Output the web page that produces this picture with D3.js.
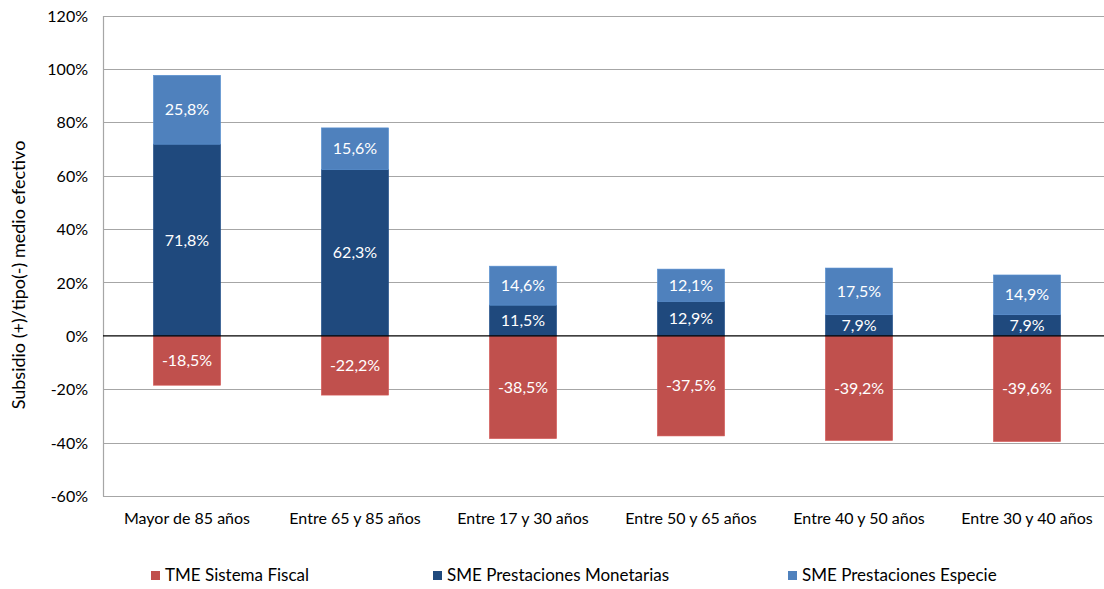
<!DOCTYPE html>
<html>
<head>
<meta charset="utf-8">
<script src="https://cdn.jsdelivr.net/npm/d3@7"></script>
<style>
  html, body { margin: 0; padding: 0; background: #fff; }
  svg text { font-family: Lato, "Open Sans", sans-serif; fill: #000; }
</style>
</head>
<body>
<svg id="chart" width="1104" height="589"></svg>
<script>
// Age groups along the x axis
const categories = ["Mayor de 85 años", "Entre 65 y 85 años", "Entre 17 y 30 años",
                    "Entre 50 y 65 años", "Entre 40 y 50 años", "Entre 30 y 40 años"];
// Series values, in percent
const tmeFiscal      = [-18.5, -22.2, -38.5, -37.5, -39.2, -39.6];
const smeMonetarias  = [71.8, 62.3, 11.5, 12.9, 7.9, 7.9];
const smeEspecie     = [25.8, 15.6, 14.6, 12.1, 17.5, 14.9];
const seriesNames    = ["TME Sistema Fiscal", "SME Prestaciones Monetarias", "SME Prestaciones Especie"];
const yTicks         = [-60, -40, -20, 0, 20, 40, 60, 80, 100, 120];
const yTitle         = "Subsidio (+)/tipo(-) medio efectivo";

const colors = ["#C0504D", "#1F497D", "#4F81BD"];

const svg = d3.select("#chart");
const margin = { left: 103, top: 15.5, right: -7, bottom: 93 };
const W = 1104, H = 589;

const x = d3.scaleBand()
  .domain(categories)
  .range([margin.left, W - margin.right])
  .paddingInner(0.6)
  .paddingOuter(0.3);

const y = d3.scaleLinear()
  .domain([-60, 120])
  .range([H - margin.bottom, margin.top]);

// Spanish decimal comma, plain hyphen for negatives
const fmt = v => d3.format(".1f")(v).replace(".", ",").replace("\u2212", "-") + "%";

// Horizontal gridlines
svg.append("g")
  .selectAll("line")
  .data(yTicks.filter(t => t !== 0))
  .join("line")
  .attr("x1", margin.left)
  .attr("x2", W)
  .attr("y1", d => Math.round(y(d)) + 0.5)
  .attr("y2", d => Math.round(y(d)) + 0.5)
  .attr("stroke", "#A6A6A6")
  .attr("stroke-width", 1.2);

// Y axis with percent labels
const yAxis = d3.axisLeft(y)
  .tickValues(yTicks)
  .tickSize(0)
  .tickPadding(15)
  .tickFormat(d => d + "%");
const yg = svg.append("g")
  .attr("transform", `translate(${margin.left},0)`)
  .call(yAxis);
yg.select(".domain").attr("stroke", "#A6A6A6").attr("stroke-width", 1.2);
yg.selectAll(".tick text").style("font-size", "16px").attr("dy", "0.35em");

// Stacked segments: negatives below zero, positives stacked upward
const segments = [];
categories.forEach((c, i) => {
  segments.push({ cat: c, s: 0, y0: tmeFiscal[i], y1: 0, v: tmeFiscal[i] });
  segments.push({ cat: c, s: 1, y0: 0, y1: smeMonetarias[i], v: smeMonetarias[i] });
  segments.push({ cat: c, s: 2, y0: smeMonetarias[i], y1: smeMonetarias[i] + smeEspecie[i], v: smeEspecie[i] });
});

svg.append("g")
  .selectAll("rect")
  .data(segments)
  .join("rect")
  .attr("x", d => x(d.cat))
  .attr("width", x.bandwidth())
  .attr("y", d => y(d.y1))
  .attr("height", d => y(d.y0) - y(d.y1))
  .attr("fill", d => colors[d.s])
  .attr("stroke", d => d3.color(colors[d.s]).brighter(0.3))
  .attr("stroke-width", 0.6);

// Zero line
svg.append("line")
  .attr("x1", margin.left)
  .attr("x2", W)
  .attr("y1", y(0))
  .attr("y2", y(0))
  .attr("stroke", "#000")
  .attr("stroke-width", 1.2);

// Value labels centred in each segment
svg.append("g")
  .selectAll("text")
  .data(segments)
  .join("text")
  .attr("x", d => x(d.cat) + x.bandwidth() / 2)
  .attr("y", d => (y(d.y0) + y(d.y1)) / 2)
  .attr("dy", "0.35em")
  .attr("text-anchor", "middle")
  .style("font-size", "16px")
  .style("fill", "#fff")
  .text(d => fmt(d.v));

// Category labels
svg.append("g")
  .selectAll("text")
  .data(categories)
  .join("text")
  .attr("x", d => x(d) + x.bandwidth() / 2)
  .attr("y", 518)
  .attr("dy", "0.35em")
  .attr("text-anchor", "middle")
  .style("font-size", "16px")
  .text(d => d);

// Y axis title
svg.append("text")
  .attr("transform", `translate(19,275) rotate(-90)`)
  .attr("text-anchor", "middle")
  .attr("dy", "0.35em")
  .style("font-size", "18px")
  .text(yTitle);

// Legend
const legendX = [151, 433, 788];
const lg = svg.append("g")
  .selectAll("g")
  .data(seriesNames)
  .join("g")
  .attr("transform", (d, i) => `translate(${legendX[i]},571)`);
lg.append("rect")
  .attr("width", 9)
  .attr("height", 9)
  .attr("fill", (d, i) => colors[i]);
lg.append("text")
  .attr("x", 14)
  .attr("y", 4.5)
  .attr("dy", "0.35em")
  .style("font-size", "17px")
  .text(d => d);
</script>
</body>
</html>
